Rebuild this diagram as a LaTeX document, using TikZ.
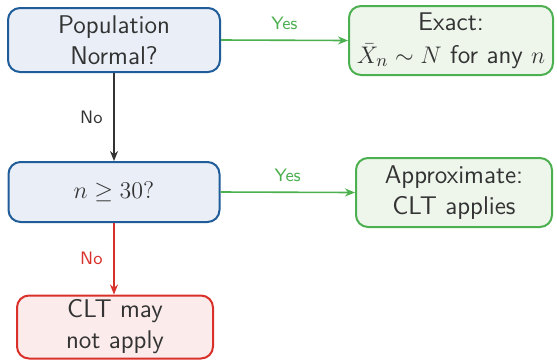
\documentclass[tikz,border=0pt]{standalone}
\usetikzlibrary{arrows.meta}
\definecolor{bblue}{HTML}{1F5C99}
\definecolor{fblue}{HTML}{EAEFF7}
\definecolor{bgreen}{HTML}{4CAF50}
\definecolor{fgreen}{HTML}{EEF6EC}
\definecolor{bred}{HTML}{D9302A}
\definecolor{fred}{HTML}{FBEBEB}
\definecolor{txt}{HTML}{333333}
\definecolor{dark}{HTML}{333333}
\begin{document}
\begin{tikzpicture}[x=0.5pt,y=-0.5pt,
  every node/.style={font=\sffamily\fontsize{12.8}{15.5}\selectfont, text=txt},
  boxbase/.style={draw, line width=1pt, rounded corners=6pt, align=center, inner sep=0pt},
  bluebox/.style={boxbase, draw=bblue, fill=fblue},
  greenbox/.style={boxbase, draw=bgreen, fill=fgreen},
  redbox/.style={boxbase, draw=bred, fill=fred},
  conn/.style={line width=0.8pt, -{Stealth[length=5pt,width=4pt]}},
  lbl/.style={font=\sffamily\small}
]
\useasboundingbox (0,0) rectangle (557,361);
\node[bluebox, minimum width=106pt, minimum height=32pt] (q1) at (114,40) {Population\\Normal?};
\node[greenbox, minimum width=102pt, minimum height=34.5pt] (ex) at (451,40.5) {Exact:\\[1pt]$\bar{X}_n \sim N$ for any $n$};
\node[bluebox, minimum width=105.5pt, minimum height=30pt] (q2) at (114,192) {$n \geq 30?$};
\node[greenbox, minimum width=98pt, minimum height=34.5pt] (ap) at (454,192.5) {Approximate:\\CLT applies};
\node[redbox, minimum width=98pt, minimum height=31.5pt] (nc) at (115,327) {CLT may\\not apply};
\draw[conn, draw=bgreen] (q1.east) -- node[lbl, text=bgreen, above=1.5pt] {Yes} (ex.west);
\draw[conn, draw=dark] (q1.south) -- node[lbl, text=dark, left=2pt] {No} (q2.north);
\draw[conn, draw=bgreen] (q2.east) -- node[lbl, text=bgreen, above=1.5pt] {Yes} (ap.west);
\draw[conn, draw=bred] (q2.south) -- node[lbl, text=bred, left=2pt] {No} (q2.south |- nc.north);
\end{tikzpicture}
\end{document}
